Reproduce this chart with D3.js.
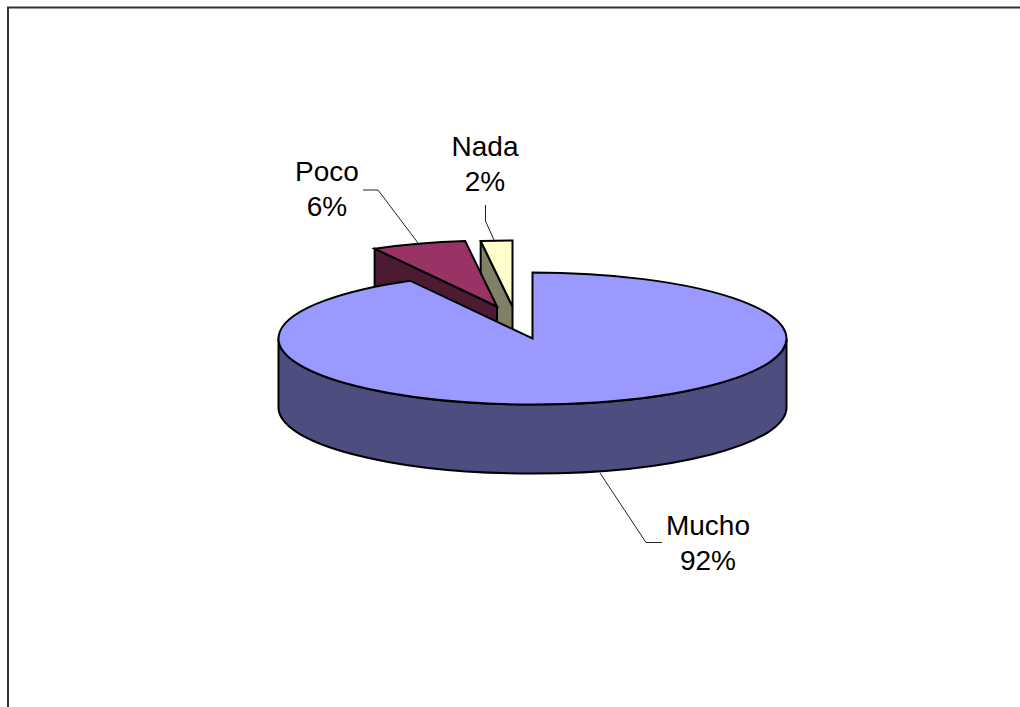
<!DOCTYPE html>
<html><head><meta charset="utf-8">
<script src="https://cdn.jsdelivr.net/npm/d3@7"></script>
<style>html,body{margin:0;padding:0;background:#fff;overflow:hidden}svg{display:block}
text{font-family:"Liberation Sans",Arial,sans-serif;font-size:28px;fill:#000;text-anchor:middle}</style>
</head><body><svg width="1020" height="707"></svg>
<script>
const categories = ["Mucho","Poco","Nada"];
const values = [92,6,2];
const percentLabels = ["92%","6%","2%"];
const topColors = ["#9999FF","#993366","#FFFFCC"];
const sideColors = ["#4D4D80","#4D1A33","#808066"];

const cx=532.5, cy=338.5, rx=254, ry=66, depth=69;
const explode=[[0,0],[-35.5,-32],[-20,-32]];
const labelPos=[[708,526],[327,172],[485,147]];
const leaders=[[[600,473],[646,542.5],[662,542.5]],[[418,243],[378,190],[363,190]],[[494,240],[485.5,221],[485.5,205]]];

const svg=d3.select("svg");
svg.append("path").attr("d","M8 707V7.5H1020").attr("fill","none").attr("stroke","#333").attr("stroke-width",2);

const arcs=d3.pie().sort(null).value(d=>d)(values);
const pt=(a,o)=>[cx+o[0]+rx*Math.sin(a),cy+o[1]-ry*Math.cos(a)];
function topPath(d,o){
  const s=pt(d.startAngle,o), e=pt(d.endAngle,o), c=[cx+o[0],cy+o[1]];
  const large=(d.endAngle-d.startAngle)>Math.PI?1:0;
  return `M${c}L${s}A${rx} ${ry} 0 ${large} 1 ${e}Z`;
}
const draw=[2,1,0];
const g=svg.append("g").attr("stroke","#000").attr("stroke-width",2).attr("stroke-linejoin","miter");
draw.forEach(i=>{
  const d=arcs[i], o=explode[i];
  if(i===0){
    const l=pt(-Math.PI/2,o), r=pt(Math.PI/2,o);
    g.append("path").attr("fill",sideColors[i])
     .attr("d",`M${l}A${rx} ${ry} 0 0 0 ${r}V${r[1]+depth}A${rx} ${ry} 0 0 1 ${l[0]} ${l[1]+depth}Z`);
  } else {
    const c=[cx+o[0],cy+o[1]];
    const rad=pt(d.startAngle,o);
    g.append("path").attr("fill",sideColors[i])
     .attr("d",`M${rad}L${c}V${c[1]+depth}L${rad[0]} ${rad[1]+depth}Z`);
  }
  g.append("path").attr("fill",topColors[i]).attr("d",topPath(d,o));
});
const line=d3.line();
leaders.forEach(l=>svg.append("path").attr("d",line(l)).attr("fill","none").attr("stroke","#222").attr("stroke-width",1));
categories.forEach((c,i)=>{
  const t=svg.append("text").attr("x",labelPos[i][0]).attr("y",labelPos[i][1]+9);
  t.append("tspan").attr("x",labelPos[i][0]).text(c);
  t.append("tspan").attr("x",labelPos[i][0]).attr("dy",35).text(percentLabels[i]);
});
</script></body></html>
